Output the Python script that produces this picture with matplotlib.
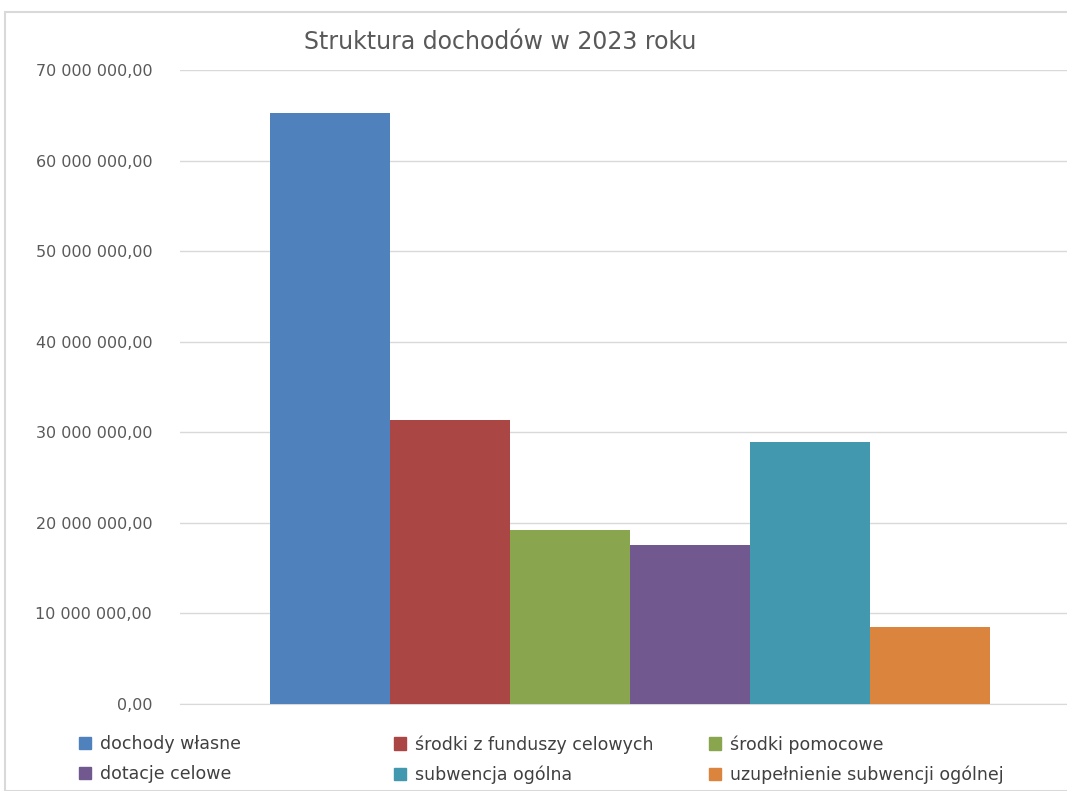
import matplotlib.pyplot as plt
from matplotlib.patches import Rectangle, Patch
from matplotlib.ticker import FuncFormatter

plt.rcParams['font.family'] = ['DejaVu Sans']

kategorie = ["dochody własne", "środki z funduszy celowych", "środki pomocowe",
             "dotacje celowe", "subwencja ogólna", "uzupełnienie subwencji ogólnej"]
wartosci = [65250000, 31350000, 19200000, 17550000, 28900000, 8500000]
kolory = ["#4F81BD", "#AA4643", "#89A54E", "#71588F", "#4198AF", "#DB843D"]

def fmt(v, pos):
    s = f"{v:,.2f}"
    return s.replace(",", " ").replace(".", ",")

fig = plt.figure(figsize=(10.67, 7.91), dpi=100)

# ramka wykresu
fig.patches.append(Rectangle((5 / 1067, 0), 1.0, 1 - 12 / 791, transform=fig.transFigure,
                             fill=False, edgecolor="#D9D9D9", linewidth=1.5))

ax = fig.add_axes([180 / 1067, 1 - 704 / 791, 1 - 180 / 1067, (704 - 70) / 791])

for i, (k, v, c) in enumerate(zip(kategorie, wartosci, kolory)):
    ax.bar(i, v, width=1.0, color=c, label=k, zorder=3)

ax.set_xlim(-1.25, 6.14)
ax.set_ylim(0, 70000000)
ax.set_yticks(range(0, 70000001, 10000000))
ax.yaxis.set_major_formatter(FuncFormatter(fmt))
ax.set_xticks([])
ax.grid(axis="y", color="#D9D9D9", linewidth=1.0, zorder=0)
for s in ax.spines.values():
    s.set_visible(False)
ax.spines["bottom"].set_visible(True)
ax.spines["bottom"].set_color("#D9D9D9")
ax.tick_params(axis="y", length=0, pad=20, labelsize=11.5, labelcolor="#595959")

fig.text(500 / 1067, 1 - 42 / 791, "Struktura dochodów w 2023 roku", ha="center", va="center",
         fontsize=17, color="#595959")

# legenda w trzech kolumnach
kolumny_x = [79, 394, 709]
for col in range(3):
    idx = [col, col + 3]
    handles = [Patch(color=kolory[j]) for j in idx]
    labels = [kategorie[j] for j in idx]
    leg = fig.legend(handles, labels, loc="upper left",
                     bbox_to_anchor=(kolumny_x[col] / 1067, 1 - 735 / 791),
                     frameon=False, fontsize=12.5, handlelength=0.7, handleheight=0.7,
                     handletextpad=0.5, labelspacing=0.7, borderaxespad=0, borderpad=0)
    for t in leg.get_texts():
        t.set_color("#404040")

fig.savefig("out.png", dpi=100)
